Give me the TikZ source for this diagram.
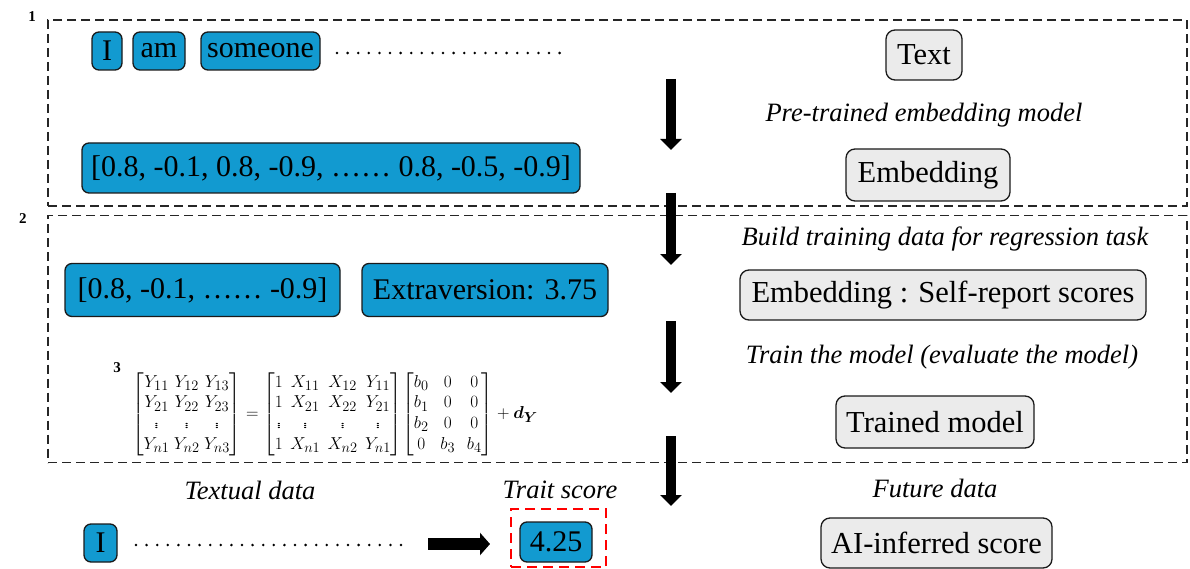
\documentclass[tikz,border=0pt]{standalone}
\usepackage{fontspec}
\setmainfont{Liberation Serif}
\usepackage{amsmath}
\usetikzlibrary{arrows.meta}

\definecolor{boxblue}{HTML}{129AD0}
\definecolor{boxgray}{HTML}{EBEBEB}
\definecolor{edge}{HTML}{1A1A1A}

% short vertical ellipsis for the matrices
\newcommand{\vdt}{\vcenter{\hbox{\scalebox{1}[0.6]{$\vdots$}}}}

\tikzset{
  chip/.style={draw=edge, fill=boxblue, line width=1.3pt, rounded corners=7pt,
    inner sep=0pt, font=\fontsize{30}{36}\selectfont},
  stage/.style={draw=edge, fill=boxgray, line width=1.3pt, rounded corners=9pt,
    inner sep=0pt, font=\fontsize{30.5}{37}\selectfont},
  note/.style={font=\fontsize{26.5}{31}\selectfont\itshape, inner sep=0pt},
  panel/.style={draw=black!85, dash pattern=on 9pt off 5pt, line width=1.5pt},
  tag/.style={font=\fontsize{15}{17}\selectfont\bfseries, inner sep=0pt},
  formula/.style={inner sep=0pt, font=\fontsize{19}{24}\selectfont},
  flow/.style={line width=10pt, -{Triangle[width=21pt,length=11pt]}},
  push/.style={line width=12pt, -{Triangle[width=22pt,length=10pt]}},
  dotrow/.style={line width=2.8pt, line cap=round, dash pattern=on 0pt off 10.6pt},
  focus/.style={draw=red, line width=2.4pt, dash pattern=on 10pt off 6pt,
    inner sep=0pt, fill=none},
}

\begin{document}
\begin{tikzpicture}[x=1pt, y=-1pt]
\useasboundingbox (0,0) rectangle (1190,569);

% dashed panels and their numbers
\node[panel, minimum width=1139pt, minimum height=186pt, inner sep=0pt] (p1) at (617.5,113) {};
\node[panel, minimum width=1139pt, minimum height=247pt, inner sep=0pt] (p2) at (617.5,339) {};
\node[tag] (t1) at (32,17) {1};
\node[tag] (t2) at (23,219) {2};
\node[tag] (t3) at (117,368) {3};

% stage 1: tokens and embedding
\node[chip, minimum width=30pt, minimum height=38pt] (w1) at (107,51) {I};
\node[chip, minimum width=52pt, minimum height=38pt] (w2) at (159,51) {am};
\node[chip, minimum width=119pt, minimum height=38pt] (w3) at (260.5,51) {someone};
\coordinate (d1s) at (337,53);
\coordinate (d1e) at (570,53);
\draw[dotrow] (d1s) -- (d1e);

\node[chip, minimum width=498pt, minimum height=50pt] (vec) at (331,168)
  {[0.8, -0.1, 0.8, -0.9, …… 0.8, -0.5, -0.9]};

\node[stage, minimum width=76pt, minimum height=50pt] (s1) at (924,55) {Text};
\node[note] (n1) at (924,115) {Pre-trained embedding model};
\node[stage, minimum width=164pt, minimum height=52pt] (s2) at (928,175) {Embedding};

% stage 2: training pairs and model
\node[chip, minimum width=275pt, minimum height=53pt] (vec2) at (202.5,290) {[0.8, -0.1, …… -0.9]};
\node[chip, minimum width=246pt, minimum height=53pt] (lab) at (485,290) {Extraversion: 3.75};

\node[note] (n2) at (945,239) {Build training data for regression task};
\node[stage, minimum width=406pt, minimum height=50pt] (s3) at (943,295) {Embedding : Self-report scores};
\node[note] (n3) at (942,357) {Train the model (evaluate the model)};
\node[stage, minimum width=198pt, minimum height=52pt] (s4) at (935,422) {Trained model};

\node[formula] (eq) at (335,414) {$\setlength\arraycolsep{2.2pt}%
  \renewcommand{\arraystretch}{0.86}%
  \begin{bmatrix} Y_{11} & Y_{12} & Y_{13}\\ Y_{21} & Y_{22} & Y_{23}\\ \vdt & \vdt & \vdt\\ Y_{n1} & Y_{n2} & Y_{n3}\end{bmatrix}
  =
  {\setlength\arraycolsep{3.7pt}%
  \begin{bmatrix} 1 & X_{11} & X_{12} & Y_{11}\\ 1 & X_{21} & X_{22} & Y_{21}\\ \vdt & \vdt & \vdt & \vdt\\ 1 & X_{n1} & X_{n2} & Y_{n1}\end{bmatrix}}
  {\setlength\arraycolsep{5.9pt}%
  \begin{bmatrix} b_0 & 0 & 0\\ b_1 & 0 & 0\\ b_2 & 0 & 0\\ 0 & b_3 & b_4\end{bmatrix}}
  + \boldsymbol{d}_{\boldsymbol{Y}}$};

% inference on new data
\node[note] (n4) at (250,490) {Textual data};
\node[note] (n5) at (560,490) {Trait score};
\node[note] (n6) at (935,488) {Future data};

\node[chip, minimum width=33pt, minimum height=38pt] (w4) at (100.5,543) {I};
\coordinate (d2s) at (136,545);
\coordinate (d2e) at (408,545);
\draw[dotrow] (d2s) -- (d2e);
\coordinate (h1) at (428,544);
\coordinate (h2) at (490,544);
\draw[push] (h1) -- (h2);

\node[chip, minimum width=72pt, minimum height=40pt] (score) at (556,542) {4.25};
\node[focus, minimum width=95pt, minimum height=58pt] (frame) at (558.5,538) {};

\node[stage, minimum width=231pt, minimum height=50pt] (s5) at (936.5,543) {AI-inferred score};

% flow arrows down the middle
\coordinate (a1s) at (671,79);
\coordinate (a1e) at (671,150);
\coordinate (a2s) at (671,193);
\coordinate (a2e) at (671,265);
\coordinate (a3s) at (671,321);
\coordinate (a3e) at (671,393);
\coordinate (a4s) at (671,436);
\coordinate (a4e) at (671,506);
\draw[flow] (a1s) -- (a1e);
\draw[flow] (a2s) -- (a2e);
\draw[flow] (a3s) -- (a3e);
\draw[flow] (a4s) -- (a4e);
\end{tikzpicture}
\end{document}
